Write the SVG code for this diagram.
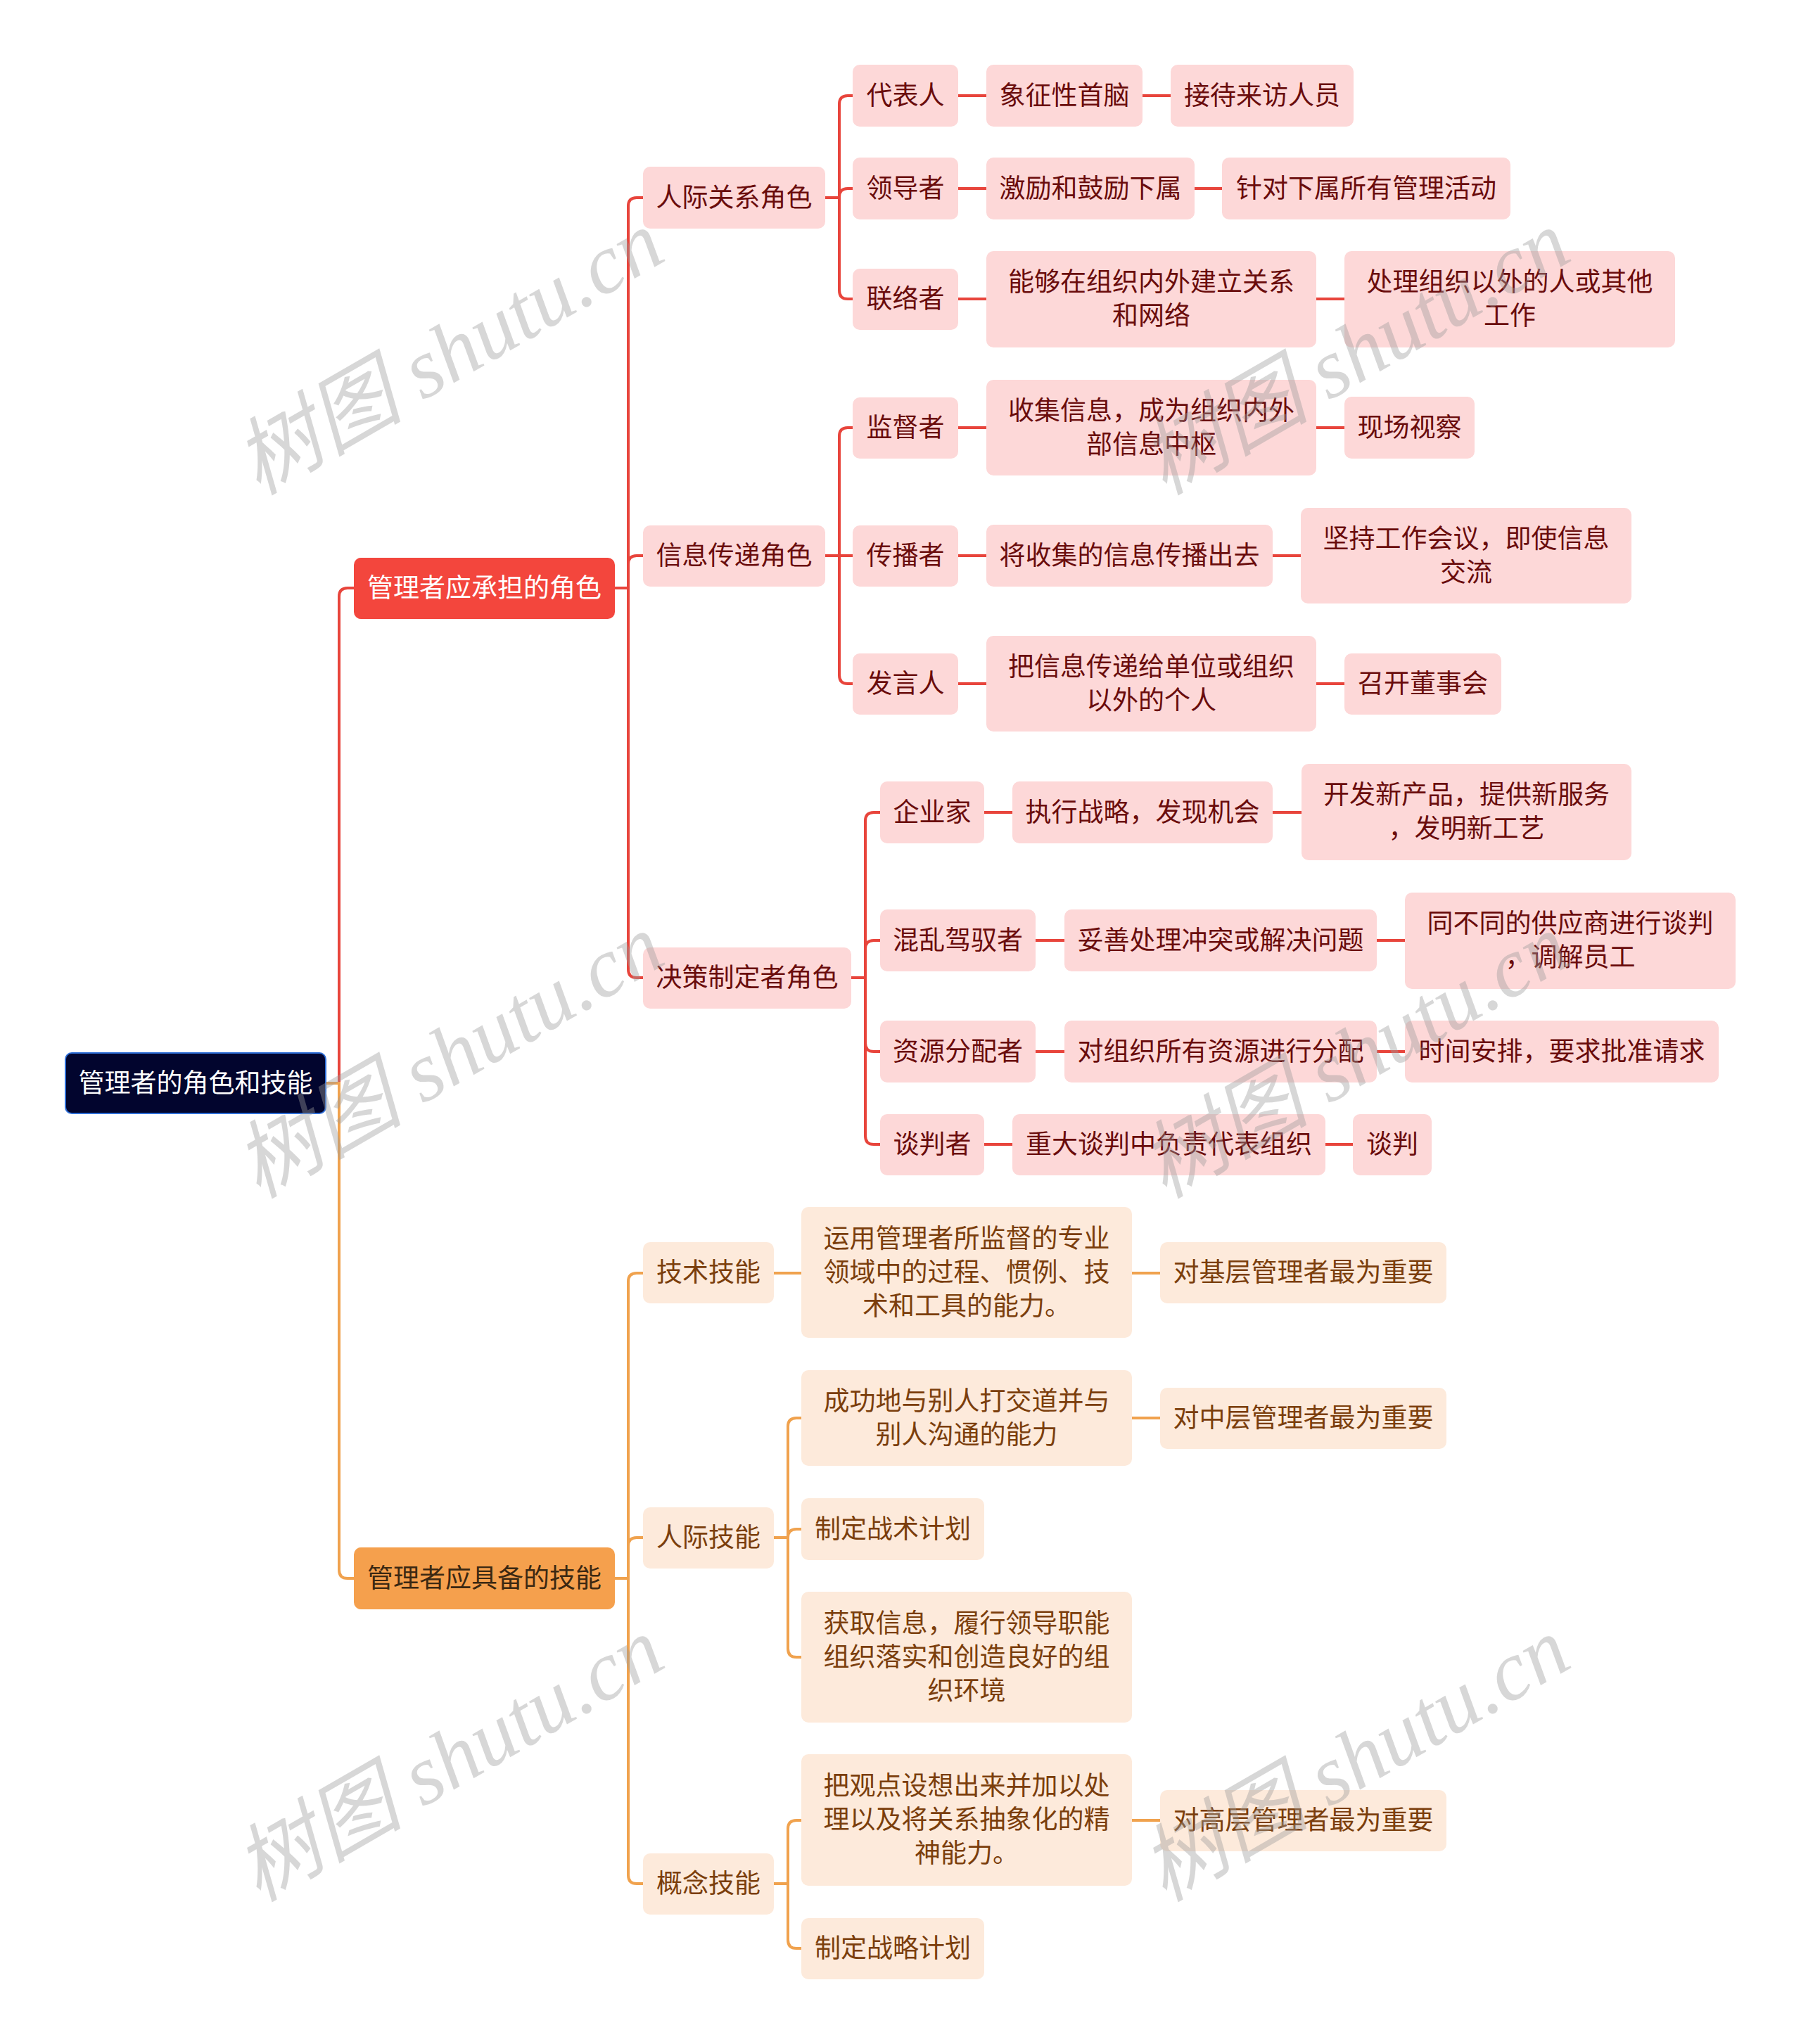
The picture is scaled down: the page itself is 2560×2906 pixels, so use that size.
<svg xmlns="http://www.w3.org/2000/svg" width="2560" height="2906" viewBox="0 0 2560 2906">
<style>
text{font-family:"Noto Sans CJK SC","Noto Sans",sans-serif;font-size:37px;text-anchor:middle}
.root rect{fill:#02052e;stroke:#2f6fd8;stroke-width:2}
.root text{fill:#ffffff}
.r1 rect{fill:#f3463d}
.r1 text{fill:#ffffff}
.o1 rect{fill:#f5a04d}
.o1 text{fill:#3b2812}
.r rect{fill:#fdd8d8}
.r text{fill:#6a0c0c}
.o rect{fill:#fdeadb}
.o text{fill:#7b3e0c}
.lr{fill:none;stroke:#e8453c;stroke-width:4}
.lo{fill:none;stroke:#f0a24e;stroke-width:4}
.wm{font-family:"Liberation Serif","Noto Sans CJK SC",serif;font-style:italic;font-size:120px;fill:#9a9a9a;fill-opacity:0.4;text-anchor:start}
</style>
<rect width="2560" height="2906" fill="#ffffff"/>
<g id="connectors">
<path class="lr" d="M482,1540 V848 Q482,836 494,836 H503"/>
<path class="lo" d="M463,1540 H482 V2232 Q482,2244 494,2244 H503"/>
<path class="lr" d="M874,836 H893 V293 Q893,281 905,281 H914"/>
<path class="lr" d="M874,836 H893 V802 Q893,790 905,790 H914"/>
<path class="lr" d="M874,836 H893 V1378 Q893,1390 905,1390 H914"/>
<path class="lr" d="M1173,281 H1193 V148 Q1193,136 1205,136 H1212"/>
<path class="lr" d="M1173,281 H1193 V280 Q1193,268 1205,268 H1212"/>
<path class="lr" d="M1173,281 H1193 V413 Q1193,425 1205,425 H1212"/>
<path class="lr" d="M1173,790 H1193 V620 Q1193,608 1205,608 H1212"/>
<path class="lr" d="M1173,790 H1212"/>
<path class="lr" d="M1173,790 H1193 V960 Q1193,972 1205,972 H1212"/>
<path class="lr" d="M1210,1390 H1230 V1167 Q1230,1155 1242,1155 H1251"/>
<path class="lr" d="M1210,1390 H1230 V1349 Q1230,1337 1242,1337 H1251"/>
<path class="lr" d="M1210,1390 H1230 V1483 Q1230,1495 1242,1495 H1251"/>
<path class="lr" d="M1210,1390 H1230 V1615 Q1230,1627 1242,1627 H1251"/>
<path class="lr" d="M1362,136 H1402 M1624,136 H1664"/>
<path class="lr" d="M1362,268 H1402 M1698,268 H1737"/>
<path class="lr" d="M1362,425 H1402 M1871,425 H1911"/>
<path class="lr" d="M1362,608 H1402 M1871,608 H1911"/>
<path class="lr" d="M1362,790 H1402 M1809,790 H1849"/>
<path class="lr" d="M1362,972 H1402 M1871,972 H1911"/>
<path class="lr" d="M1399,1155 H1439 M1809,1155 H1850"/>
<path class="lr" d="M1472,1337 H1513 M1957,1337 H1997"/>
<path class="lr" d="M1472,1495 H1513 M1957,1495 H1997"/>
<path class="lr" d="M1399,1627 H1439 M1884,1627 H1923"/>
<path class="lo" d="M874,2244 H893 V1822 Q893,1810 905,1810 H914"/>
<path class="lo" d="M874,2244 H893 V2198 Q893,2186 905,2186 H914"/>
<path class="lo" d="M874,2244 H893 V2666 Q893,2678 905,2678 H914"/>
<path class="lo" d="M1100,1810 H1139 M1609,1810 H1649"/>
<path class="lo" d="M1100,2186 H1120 V2028 Q1120,2016 1132,2016 H1139"/>
<path class="lo" d="M1100,2186 H1120 V2186 Q1120,2174 1132,2174 H1139"/>
<path class="lo" d="M1100,2186 H1120 V2344 Q1120,2356 1132,2356 H1139"/>
<path class="lo" d="M1609,2016 H1649"/>
<path class="lo" d="M1100,2678 H1120 V2600 Q1120,2588 1132,2588 H1139"/>
<path class="lo" d="M1100,2678 H1120 V2758 Q1120,2770 1132,2770 H1139"/>
<path class="lo" d="M1609,2588 H1649"/>
</g>
<g id="root" class="root"><rect x="93" y="1497" width="370" height="86" rx="9"/><text x="278" y="1553">管理者的角色和技能</text></g>
<g id="n-role" class="r1"><rect x="503" y="793" width="371" height="87" rx="10"/><text x="688.5" y="849">管理者应承担的角色</text></g>
<g id="n-skill" class="o1"><rect x="503" y="2200" width="371" height="88" rx="10"/><text x="688.5" y="2257">管理者应具备的技能</text></g>

<g id="n-rj" class="r"><rect x="914" y="237" width="259" height="88" rx="10"/><text x="1043.5" y="294">人际关系角色</text></g>
<g id="n-xx" class="r"><rect x="914" y="747" width="259" height="87" rx="10"/><text x="1043.5" y="803">信息传递角色</text></g>
<g id="n-jc" class="r"><rect x="914" y="1347" width="296" height="87" rx="10"/><text x="1062" y="1403">决策制定者角色</text></g>

<g id="n-dbr" class="r"><rect x="1212" y="92" width="150" height="88" rx="10"/><text x="1287" y="149">代表人</text></g>
<g id="n-ldz" class="r"><rect x="1212" y="224" width="150" height="88" rx="10"/><text x="1287" y="281">领导者</text></g>
<g id="n-llz" class="r"><rect x="1212" y="382" width="150" height="87" rx="10"/><text x="1287" y="438">联络者</text></g>
<g id="n-jdz" class="r"><rect x="1212" y="565" width="150" height="87" rx="10"/><text x="1287" y="621">监督者</text></g>
<g id="n-cbz" class="r"><rect x="1212" y="747" width="150" height="87" rx="10"/><text x="1287" y="803">传播者</text></g>
<g id="n-fyr" class="r"><rect x="1212" y="929" width="150" height="87" rx="10"/><text x="1287" y="985">发言人</text></g>
<g id="n-qyj" class="r"><rect x="1251" y="1111" width="148" height="88" rx="10"/><text x="1325" y="1168">企业家</text></g>
<g id="n-hl" class="r"><rect x="1251" y="1293" width="221" height="88" rx="10"/><text x="1361.5" y="1350">混乱驾驭者</text></g>
<g id="n-zy" class="r"><rect x="1251" y="1451" width="221" height="88" rx="10"/><text x="1361.5" y="1508">资源分配者</text></g>
<g id="n-tpz" class="r"><rect x="1251" y="1584" width="148" height="87" rx="10"/><text x="1325" y="1640">谈判者</text></g>

<g id="n-xzx" class="r"><rect x="1402" y="92" width="222" height="88" rx="10"/><text x="1513" y="149">象征性首脑</text></g>
<g id="n-jl" class="r"><rect x="1402" y="224" width="296" height="88" rx="10"/><text x="1550" y="281">激励和鼓励下属</text></g>
<g id="n-ngz" class="r"><rect x="1402" y="357" width="469" height="137" rx="10"/><text x="1636.5" y="414">能够在组织内外建立关系</text><text x="1636.5" y="462">和网络</text></g>
<g id="n-sjxx" class="r"><rect x="1402" y="540" width="469" height="136" rx="10"/><text x="1636.5" y="597">收集信息，成为组织内外</text><text x="1636.5" y="645">部信息中枢</text></g>
<g id="n-jsj" class="r"><rect x="1402" y="746" width="407" height="88" rx="10"/><text x="1605.5" y="803">将收集的信息传播出去</text></g>
<g id="n-bxx" class="r"><rect x="1402" y="904" width="469" height="136" rx="10"/><text x="1636.5" y="961">把信息传递给单位或组织</text><text x="1636.5" y="1009">以外的个人</text></g>
<g id="n-zxzl" class="r"><rect x="1439" y="1111" width="370" height="88" rx="10"/><text x="1624" y="1168">执行战略，发现机会</text></g>
<g id="n-ts" class="r"><rect x="1513" y="1293" width="444" height="88" rx="10"/><text x="1735" y="1350">妥善处理冲突或解决问题</text></g>
<g id="n-dzz" class="r"><rect x="1513" y="1451" width="444" height="88" rx="10"/><text x="1735" y="1508">对组织所有资源进行分配</text></g>
<g id="n-zdtp" class="r"><rect x="1439" y="1584" width="445" height="87" rx="10"/><text x="1661.5" y="1640">重大谈判中负责代表组织</text></g>

<g id="n-jdlf" class="r"><rect x="1664" y="92" width="260" height="88" rx="10"/><text x="1794" y="149">接待来访人员</text></g>
<g id="n-zdxs" class="r"><rect x="1737" y="224" width="410" height="88" rx="10"/><text x="1942" y="281">针对下属所有管理活动</text></g>
<g id="n-clzz" class="r"><rect x="1911" y="357" width="470" height="137" rx="10"/><text x="2146" y="414">处理组织以外的人或其他</text><text x="2146" y="462">工作</text></g>
<g id="n-xcsc" class="r"><rect x="1911" y="564" width="185" height="88" rx="10"/><text x="2003.5" y="621">现场视察</text></g>
<g id="n-jcgz" class="r"><rect x="1849" y="722" width="470" height="136" rx="10"/><text x="2084" y="779">坚持工作会议，即使信息</text><text x="2084" y="827">交流</text></g>
<g id="n-zkds" class="r"><rect x="1911" y="929" width="223" height="87" rx="10"/><text x="2022.5" y="985">召开董事会</text></g>
<g id="n-kfxcp" class="r"><rect x="1850" y="1086" width="469" height="137" rx="10"/><text x="2084.5" y="1143">开发新产品，提供新服务</text><text x="2084.5" y="1191">，发明新工艺</text></g>
<g id="n-tbt" class="r"><rect x="1997" y="1269" width="470" height="137" rx="10"/><text x="2232" y="1326">同不同的供应商进行谈判</text><text x="2232" y="1374">，调解员工</text></g>
<g id="n-sjap" class="r"><rect x="1997" y="1451" width="446" height="88" rx="10"/><text x="2220" y="1508">时间安排，要求批准请求</text></g>
<g id="n-tp" class="r"><rect x="1923" y="1584" width="112" height="87" rx="10"/><text x="1979" y="1640">谈判</text></g>

<g id="n-jsjn" class="o"><rect x="914" y="1766" width="186" height="87" rx="10"/><text x="1007" y="1822">技术技能</text></g>
<g id="n-rjjn" class="o"><rect x="914" y="2143" width="186" height="87" rx="10"/><text x="1007" y="2199">人际技能</text></g>
<g id="n-gnjn" class="o"><rect x="914" y="2635" width="186" height="87" rx="10"/><text x="1007" y="2691">概念技能</text></g>

<g id="n-yy" class="o"><rect x="1139" y="1716" width="470" height="186" rx="10"/><text x="1374" y="1774">运用管理者所监督的专业</text><text x="1374" y="1822">领域中的过程、惯例、技</text><text x="1374" y="1870">术和工具的能力。</text></g>
<g id="n-cgd" class="o"><rect x="1139" y="1948" width="470" height="136" rx="10"/><text x="1374" y="2005">成功地与别人打交道并与</text><text x="1374" y="2053">别人沟通的能力</text></g>
<g id="n-zdzs" class="o"><rect x="1139" y="2130" width="260" height="88" rx="10"/><text x="1269" y="2187">制定战术计划</text></g>
<g id="n-hqxx" class="o"><rect x="1139" y="2263" width="470" height="186" rx="10"/><text x="1374" y="2321">获取信息，履行领导职能</text><text x="1374" y="2369">组织落实和创造良好的组</text><text x="1374" y="2417">织环境</text></g>
<g id="n-bgd" class="o"><rect x="1139" y="2494" width="470" height="187" rx="10"/><text x="1374" y="2552">把观点设想出来并加以处</text><text x="1374" y="2600">理以及将关系抽象化的精</text><text x="1374" y="2648">神能力。</text></g>
<g id="n-zdzl" class="o"><rect x="1139" y="2727" width="260" height="87" rx="10"/><text x="1269" y="2783">制定战略计划</text></g>

<g id="n-djc" class="o"><rect x="1649" y="1766" width="407" height="87" rx="10"/><text x="1852.5" y="1822">对基层管理者最为重要</text></g>
<g id="n-dzc" class="o"><rect x="1649" y="1973" width="407" height="87" rx="10"/><text x="1852.5" y="2029">对中层管理者最为重要</text></g>
<g id="n-dgc" class="o"><rect x="1649" y="2545" width="407" height="87" rx="10"/><text x="1852.5" y="2601">对高层管理者最为重要</text></g>

<g id="watermarks">
<text class="wm" transform="translate(367,705) rotate(-30)">树图 shutu.cn</text>
<text class="wm" transform="translate(367,1705) rotate(-30)">树图 shutu.cn</text>
<text class="wm" transform="translate(367,2705) rotate(-30)">树图 shutu.cn</text>
<text class="wm" transform="translate(1655,705) rotate(-30)">树图 shutu.cn</text>
<text class="wm" transform="translate(1655,1705) rotate(-30)">树图 shutu.cn</text>
<text class="wm" transform="translate(1655,2705) rotate(-30)">树图 shutu.cn</text>
</g>
</svg>
